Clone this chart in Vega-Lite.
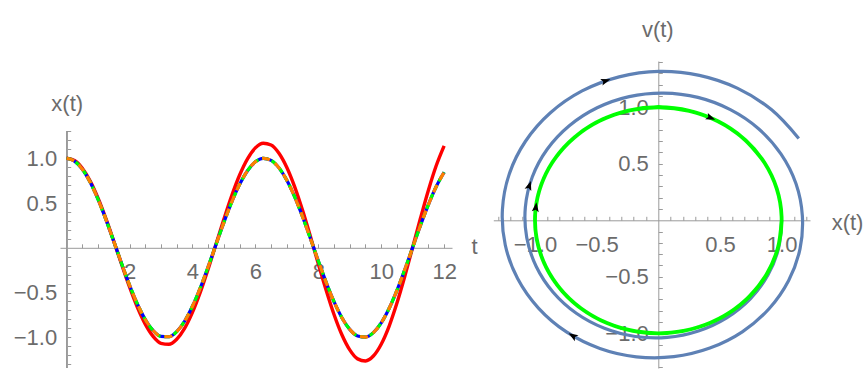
{
  "$schema": "https://vega.github.io/schema/vega-lite/v6.json",
  "background": "white",
  "autosize": {"type": "pad"},
  "padding": {"left": 13, "top": 18, "right": 0, "bottom": 0},
  "spacing": 41.3,
  "bounds": "flush",
  "config": {
    "view": {"stroke": null},
    "axis": {
      "grid": false,
      "domainColor": "#9a9a9a",
      "tickColor": "#9a9a9a",
      "labelColor": "#6b6b6b",
      "titleColor": "#6b6b6b",
      "labelFont": "Liberation Sans",
      "titleFont": "Liberation Sans",
      "labelFontSize": 22,
      "titleFontSize": 22,
      "titleFontWeight": "normal",
      "tickSize": -4,
      "labelOverlap": false,
      "labelFlush": false,
      "titleAngle": 0,
      "titleAlign": "center",
      "titleBaseline": "middle"
    }
  },
  "datasets": {
    "sol": [
      {"t": 0, "x": 1, "v": 0, "xe": 1, "ve": 0},
      {"t": 0.25, "x": 0.9689, "v": -0.2474, "xe": 0.975, "ve": -0.249},
      {"t": 0.5, "x": 0.8776, "v": -0.4794, "xe": 0.889, "ve": -0.485},
      {"t": 0.75, "x": 0.7317, "v": -0.6816, "xe": 0.746, "ve": -0.695},
      {"t": 1, "x": 0.5403, "v": -0.8415, "xe": 0.554, "ve": -0.863},
      {"t": 1.25, "x": 0.3153, "v": -0.949, "xe": 0.325, "ve": -0.979},
      {"t": 1.5, "x": 0.0707, "v": -0.9975, "xe": 0.073, "ve": -1.036},
      {"t": 1.75, "x": -0.1782, "v": -0.984, "xe": -0.186, "ve": -1.028},
      {"t": 2, "x": -0.4161, "v": -0.9093, "xe": -0.437, "ve": -0.956},
      {"t": 2.25, "x": -0.6282, "v": -0.7781, "xe": -0.665, "ve": -0.823},
      {"t": 2.5, "x": -0.8011, "v": -0.5985, "xe": -0.853, "ve": -0.637},
      {"t": 2.75, "x": -0.9243, "v": -0.3817, "xe": -0.99, "ve": -0.409},
      {"t": 3, "x": -0.99, "v": -0.1411, "xe": -1.067, "ve": -0.152},
      {"t": 3.25, "x": -0.9941, "v": 0.1082, "xe": -1.078, "ve": 0.117},
      {"t": 3.5, "x": -0.9365, "v": 0.3508, "xe": -1.022, "ve": 0.383},
      {"t": 3.75, "x": -0.8206, "v": 0.5716, "xe": -0.901, "ve": 0.628},
      {"t": 4, "x": -0.6536, "v": 0.7568, "xe": -0.722, "ve": 0.836},
      {"t": 4.25, "x": -0.4461, "v": 0.895, "xe": -0.496, "ve": 0.995},
      {"t": 4.5, "x": -0.2108, "v": 0.9775, "xe": -0.236, "ve": 1.094},
      {"t": 4.75, "x": 0.0376, "v": 0.9993, "xe": 0.042, "ve": 1.125},
      {"t": 5, "x": 0.2837, "v": 0.9589, "xe": 0.321, "ve": 1.087},
      {"t": 5.25, "x": 0.5121, "v": 0.8589, "xe": 0.584, "ve": 0.979},
      {"t": 5.5, "x": 0.7087, "v": 0.7055, "xe": 0.813, "ve": 0.81},
      {"t": 5.75, "x": 0.8612, "v": 0.5083, "xe": 0.994, "ve": 0.587},
      {"t": 6, "x": 0.9602, "v": 0.2794, "xe": 1.116, "ve": 0.325},
      {"t": 6.25, "x": 0.9995, "v": 0.0332, "xe": 1.168, "ve": 0.039},
      {"t": 6.5, "x": 0.9766, "v": -0.2151, "xe": 1.149, "ve": -0.253},
      {"t": 6.75, "x": 0.893, "v": -0.45, "xe": 1.057, "ve": -0.533},
      {"t": 7, "x": 0.7539, "v": -0.657, "xe": 0.898, "ve": -0.783},
      {"t": 7.25, "x": 0.5679, "v": -0.8231, "xe": 0.681, "ve": -0.987},
      {"t": 7.5, "x": 0.3466, "v": -0.938, "xe": 0.418, "ve": -1.131},
      {"t": 7.75, "x": 0.1038, "v": -0.9946, "xe": 0.126, "ve": -1.207},
      {"t": 8, "x": -0.1455, "v": -0.9894, "xe": -0.178, "ve": -1.208},
      {"t": 8.25, "x": -0.3857, "v": -0.9226, "xe": -0.474, "ve": -1.134},
      {"t": 8.5, "x": -0.602, "v": -0.7985, "xe": -0.745, "ve": -0.988},
      {"t": 8.75, "x": -0.7808, "v": -0.6247, "xe": -0.972, "ve": -0.777},
      {"t": 9, "x": -0.9111, "v": -0.4121, "xe": -1.141, "ve": -0.516},
      {"t": 9.25, "x": -0.9848, "v": -0.1739, "xe": -1.241, "ve": -0.219},
      {"t": 9.5, "x": -0.9972, "v": 0.0752, "xe": -1.264, "ve": 0.095},
      {"t": 9.75, "x": -0.9476, "v": 0.3195, "xe": -1.209, "ve": 0.408},
      {"t": 10, "x": -0.8391, "v": 0.544, "xe": -1.077, "ve": 0.699},
      {"t": 10.25, "x": -0.6784, "v": 0.7347, "xe": -0.877, "ve": 0.949},
      {"t": 10.5, "x": -0.4755, "v": 0.8797, "xe": -0.618, "ve": 1.144},
      {"t": 10.75, "x": -0.2431, "v": 0.97, "xe": -0.318, "ve": 1.269},
      {"t": 11, "x": 0.0044, "v": 1.0, "xe": 0.006, "ve": 1.317},
      {"t": 11.25, "x": 0.2517, "v": 0.9678, "xe": 0.333, "ve": 1.282},
      {"t": 11.5, "x": 0.4833, "v": 0.8755, "xe": 0.644, "ve": 1.167},
      {"t": 11.75, "x": 0.6849, "v": 0.7287, "xe": 0.919, "ve": 0.977},
      {"t": 12, "x": 0.8439, "v": 0.5366, "xe": 1.139, "ve": 0.724}
    ],
    "arrows": [
      {"x": -0.427, "v": 1.233, "heading": 72},
      {"x": -1.046, "v": 0.306, "heading": 18},
      {"x": -0.993, "v": 0.115, "heading": 7},
      {"x": 0.424, "v": 0.906, "heading": 113},
      {"x": -0.693, "v": -1.022, "heading": 302}
    ]
  },
  "hconcat": [
    {
      "width": 392,
      "height": 307,
      "data": {"name": "sol"},
      "resolve": {"axis": {"x": "independent", "y": "independent"}},
      "layer": [
        {
          "mark": {"type": "rule", "color": "#9a9a9a", "strokeWidth": 1},
          "encoding": {
            "x": {"datum": 0, "type": "quantitative", "axis": null},
            "y": {"datum": -1.343, "type": "quantitative", "axis": null},
            "y2": {"datum": 1.297}
          }
        },
        {
          "mark": {"type": "line", "color": "#ff0000", "strokeWidth": 3.4, "interpolate": "monotone"},
          "encoding": {
            "x": {
              "field": "t", "type": "quantitative",
              "scale": {"domain": [-0.21, 12.25], "nice": false, "zero": false},
              "axis": {
                "orient": "bottom", "offset": -120.2,
                "values": [2, 4, 6, 8, 10, 12],
                "format": "d",
                "labelPadding": 18,
                "title": "t", "titleX": 414, "titleY": -1
              }
            },
            "y": {
              "field": "xe", "type": "quantitative",
              "scale": {"domain": [-1.343, 2.087], "nice": false, "zero": false},
              "axis": {
                "orient": "left", "offset": -6.7, "domain": false,
                "values": [-1.0, -0.5, 0.5, 1.0],
                "format": ".1f",
                "labelPadding": 14,
                "title": "x(t)", "titleX": 0, "titleY": 42
              }
            }
          }
        },
        {
          "mark": {"type": "line", "color": "#0000ff", "strokeWidth": 3.2, "interpolate": "monotone"},
          "encoding": {
            "x": {
              "field": "t", "type": "quantitative",
              "axis": {
                "orient": "bottom", "offset": -120.2, "domain": false, "labels": false, "title": null,
                "values": [0.5, 1, 1.5, 2.5, 3, 3.5, 4.5, 5, 5.5, 6.5, 7, 7.5, 8.5, 9, 9.5, 10.5, 11, 11.5]
              }
            },
            "y": {
              "field": "x", "type": "quantitative",
              "axis": {
                "orient": "left", "offset": -6.7, "domain": false, "labels": false, "title": null,
                "values": [-1.3, -1.2, -1.1, -0.9, -0.8, -0.7, -0.6, -0.4, -0.3, -0.2, -0.1, 0.1, 0.2, 0.3, 0.4, 0.6, 0.7, 0.8, 0.9, 1.1, 1.2, 1.3]
              }
            }
          }
        },
        {
          "mark": {"type": "line", "color": "#00ff00", "strokeWidth": 3.2, "strokeDash": [6, 4], "interpolate": "monotone"},
          "encoding": {
            "x": {"field": "t", "type": "quantitative", "axis": null},
            "y": {"field": "x", "type": "quantitative", "axis": null}
          }
        },
        {
          "mark": {"type": "line", "color": "#ff8000", "strokeWidth": 3.2, "strokeDash": [8, 6], "interpolate": "monotone"},
          "encoding": {
            "x": {"field": "t", "type": "quantitative", "axis": null},
            "y": {"field": "x", "type": "quantitative", "axis": null}
          }
        }
      ]
    },
    {
      "width": 316.7,
      "height": 307,
      "resolve": {"axis": {"x": "independent", "y": "independent"}},
      "layer": [
        {
          "data": {"name": "sol"},
          "mark": {"type": "line", "color": "#5e81b5", "strokeWidth": 3.2, "interpolate": "cardinal"},
          "encoding": {
            "x": {
              "field": "xe", "type": "quantitative",
              "scale": {"domain": [-1.338, 1.23], "nice": false, "zero": false},
              "axis": {
                "orient": "bottom", "offset": -147.7,
                "values": [-1.0, -0.5, 0.5, 1.0],
                "format": ".1f",
                "labelPadding": 18,
                "title": "x(t)", "titleX": 353.7, "titleY": 2
              }
            },
            "y": {
              "field": "ve", "type": "quantitative",
              "scale": {"domain": [-1.307, 1.409], "nice": false, "zero": false},
              "axis": {
                "orient": "left", "offset": -165,
                "values": [-1.0, -0.5, 0.5, 1.0],
                "format": ".1f",
                "labelPadding": 14,
                "title": "v(t)", "titleX": -1, "titleY": -32
              }
            },
            "order": {"field": "t", "type": "quantitative"}
          }
        },
        {
          "data": {"name": "sol"},
          "mark": {"type": "line", "color": "#00ff00", "strokeWidth": 3.8, "interpolate": "cardinal"},
          "encoding": {
            "x": {
              "field": "x", "type": "quantitative",
              "axis": {
                "orient": "bottom", "offset": -147.7, "domain": false, "labels": false, "title": null,
                "values": [-1.3, -1.2, -1.1, -0.9, -0.8, -0.7, -0.6, -0.4, -0.3, -0.2, -0.1, 0.1, 0.2, 0.3, 0.4, 0.6, 0.7, 0.8, 0.9, 1.1, 1.2]
              }
            },
            "y": {
              "field": "v", "type": "quantitative",
              "axis": {
                "orient": "left", "offset": -165, "domain": false, "labels": false, "title": null,
                "values": [-1.3, -1.2, -1.1, -0.9, -0.8, -0.7, -0.6, -0.4, -0.3, -0.2, -0.1, 0.1, 0.2, 0.3, 0.4, 0.6, 0.7, 0.8, 0.9, 1.1, 1.2, 1.3, 1.4]
              }
            },
            "order": {"field": "t", "type": "quantitative"}
          }
        },
        {
          "data": {"name": "arrows"},
          "mark": {"type": "point", "filled": true, "color": "black", "opacity": 1, "size": 100, "shape": "M0,-1L0.7,0.9L0,0.5L-0.7,0.9Z"},
          "encoding": {
            "x": {"field": "x", "type": "quantitative", "axis": null},
            "y": {"field": "v", "type": "quantitative", "axis": null},
            "angle": {"field": "heading", "type": "quantitative", "scale": null}
          }
        }
      ]
    }
  ]
}
